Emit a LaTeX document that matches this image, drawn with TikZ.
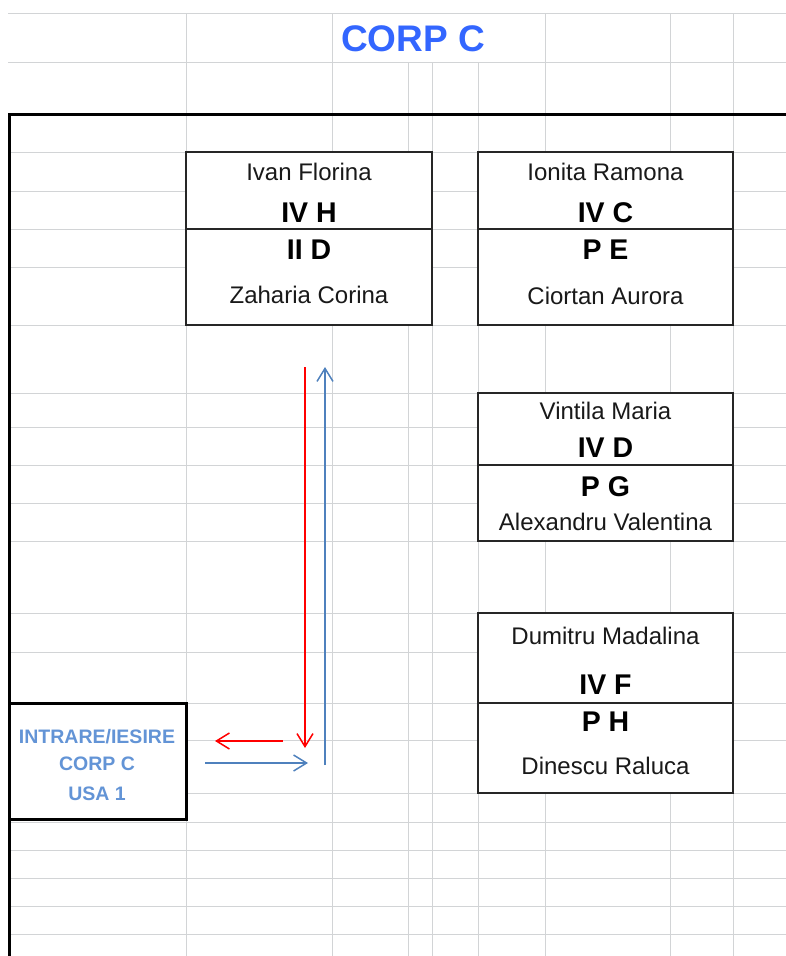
\documentclass[tikz,border=0pt]{standalone}
\usepackage{fontspec}
\setmainfont{Liberation Sans}
\usetikzlibrary{positioning,arrows.meta}

\definecolor{gridgray}{RGB}{210,212,214}
\definecolor{titleblue}{RGB}{51,102,255}
\definecolor{doorblue}{RGB}{99,148,214}
\definecolor{arrowblue}{RGB}{79,129,189}

\tikzstyle{cell} = [draw=black!85, fill=white, line width=1.5pt, rectangle, inner sep=0pt, outer sep=0pt, anchor=north west]
\tikzstyle{prof} = [anchor=base, font=\fontsize{24}{28}\selectfont, text=black!90]
\tikzstyle{clasa} = [anchor=base, font=\bfseries\fontsize{28.5}{32}\selectfont]
\tikzstyle{door} = [anchor=base, font=\bfseries\fontsize{19.5}{24}\selectfont, text=doorblue]
\tikzstyle{gridline} = [draw=gridgray, line width=1pt]
\tikzstyle{redline} = [draw=red, line width=1.5pt, -{Straight Barb[length=13pt,width=16pt]}]
\tikzstyle{blueline} = [draw=arrowblue, line width=1.5pt, -{Straight Barb[length=13pt,width=16pt]}]

\begin{document}
\begin{tikzpicture}[x=1pt, y=-1pt]
    \useasboundingbox (0,0) rectangle (786,956);
    % Sheet grid
    \foreach \gy in {13,62,152,191,229,267,325,393,427,465,503,541,613,652,703,740,793,822,850,878,906,934}
        \draw [gridline] (8,\gy) -- (786,\gy);
    \foreach \gx in {186,332,545,670,733}
        \draw [gridline] (\gx,13) -- (\gx,956);
    \foreach \gx in {408,432,478}
        \draw [gridline] (\gx,62) -- (\gx,956);
    % Walls
    \draw [line width=3pt] (9,956) -- (9,114) -- (786,114);
    \node [anchor=base, font=\bfseries\fontsize{37}{40}\selectfont, text=titleblue] (title) at (413,51.5) {CORP C};

    % Place rooms
    \node [cell, minimum width=246pt, minimum height=77pt] (ivanTop) at (186,152) {};
    \node [cell, minimum width=246pt, minimum height=96pt, below=0pt of ivanTop] (ivanBot) {};
    \node [cell, minimum width=255pt, minimum height=77pt, right=46pt of ivanTop] (ionitaTop) {};
    \node [cell, minimum width=255pt, minimum height=96pt, below=0pt of ionitaTop] (ionitaBot) {};
    \node [cell, minimum width=255pt, minimum height=72pt, below=68pt of ionitaBot] (vintilaTop) {};
    \node [cell, minimum width=255pt, minimum height=76pt, below=0pt of vintilaTop] (vintilaBot) {};
    \node [cell, minimum width=255pt, minimum height=90pt, below=72pt of vintilaBot] (dumitruTop) {};
    \node [cell, minimum width=255pt, minimum height=90pt, below=0pt of dumitruTop] (dumitruBot) {};
    \node [cell, line width=3pt, draw=black, minimum width=177pt, minimum height=116pt] (usa) at (9,703) {};

    % Room texts
    \node [prof] (ivan) at (309,180) {Ivan Florina};
    \node [clasa] (ivH) at (309,222) {IV H};
    \node [clasa] (iiD) at (309,259) {II D};
    \node [prof] (zaharia) at (309,303.5) {Zaharia Corina};

    \node [prof] (ionita) at (605.5,180) {Ionita Ramona};
    \node [clasa] (ivC) at (605.5,222) {IV C};
    \node [clasa] (pE) at (605.5,259) {P E};
    \node [prof] (ciortan) at (605.5,304) {Ciortan Aurora};

    \node [prof] (vintila) at (605.5,419) {Vintila Maria};
    \node [clasa] (ivD) at (605.5,457) {IV D};
    \node [clasa] (pG) at (605.5,496) {P G};
    \node [prof] (alexandru) at (605.5,530) {Alexandru Valentina};

    \node [prof] (dumitru) at (605.5,644) {Dumitru Madalina};
    \node [clasa] (ivF) at (605.5,694) {IV F};
    \node [clasa] (pH) at (605.5,731.5) {P H};
    \node [prof] (dinescu) at (605.5,774) {Dinescu Raluca};

    \node [door] (usa1) at (97,743) {INTRARE/IESIRE};
    \node [door] (usa2) at (97,770.5) {CORP C};
    \node [door] (usa3) at (97,800) {USA 1};

    % Draw arrows
    \coordinate (redTop) at (305,367);
    \coordinate (redBottom) at (305,748);
    \coordinate (redFrom) at (283,741);
    \coordinate (redTo) at (215,741);
    \coordinate (blueFrom) at (205,763);
    \coordinate (blueTo) at (308,763);
    \coordinate (blueBottom) at (325,765);
    \coordinate (blueTop) at (325,367);
    \draw [redline] (redTop) -- (redBottom);
    \draw [redline] (redFrom) -- (redTo);
    \draw [blueline] (blueFrom) -- (blueTo);
    \draw [blueline] (blueBottom) -- (blueTop);
\end{tikzpicture}
\end{document}
